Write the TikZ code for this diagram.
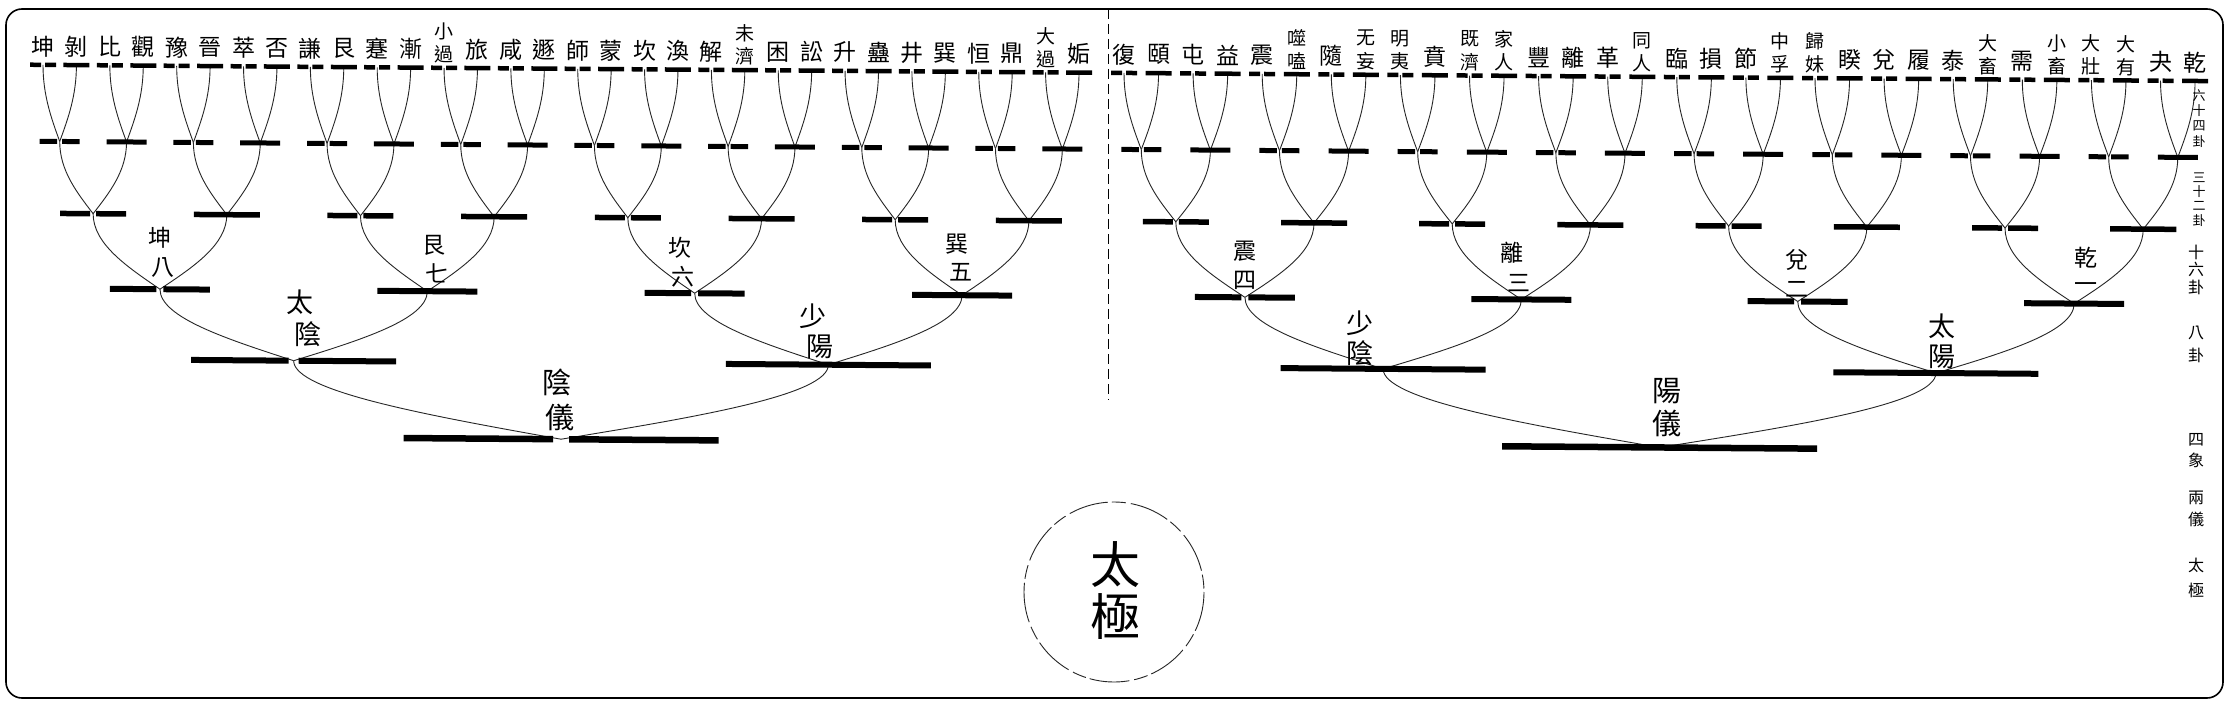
\documentclass[tikz,border=0pt]{standalone}
\usepackage{fontspec}
\newfontfamily\cjk{Noto Sans CJK TC}
\begin{document}
\begin{tikzpicture}[x=1pt,y=-1pt,
  declare function={leafx(\t)=(\t<32)*(43+\t*33.42)+(\t>=32)*(1124+(\t-32)*34.55);},
  barfill/.style={fill=black,draw=none},
  link/.style={line width=0.9pt,draw=black!85},
  nm/.style={font=\cjk\fontsize{23}{23}\selectfont,inner sep=0pt},
  nmtwo/.style={font=\cjk\fontsize{19}{19}\selectfont,inner sep=0pt},
  labeight/.style={font=\cjk\fontsize{23}{23}\selectfont,inner sep=0pt},
  labfour/.style={font=\cjk\fontsize{27}{27}\selectfont,inner sep=0pt},
  labtwo/.style={font=\cjk\fontsize{29}{29}\selectfont,inner sep=0pt},
  side/.style={font=\cjk\fontsize{16}{16}\selectfont,inner sep=0pt},
  sidesmall/.style={font=\cjk\fontsize{13}{13}\selectfont,inner sep=0pt},
  frame/.style={line width=1.6pt,rounded corners=16pt},
]
\useasboundingbox (0,0) rectangle (2233,701);
\fill[white] (0,0) rectangle (2233,701);
\draw[frame] (6,9) rectangle (2223,698);
\draw[line width=1pt,dash pattern=on 10pt off 5pt] (1108,9) coordinate (dtop) -- (1108,400) coordinate (dbot);

\begin{scope}[yslant=-0.0075]
% node points of every level
\foreach \L/\Y in {6/64.5,5/141,4/213,3/288,2/358.5,1/435}{
  \pgfmathtruncatemacro\N{2^\L-1}
  \pgfmathtruncatemacro\nn{2^(6-\L)}
  \foreach \k in {0,...,\N}{
    \pgfmathsetmacro\xc{(leafx(\k*\nn)+leafx(\k*\nn+\nn-1))/2}
    \coordinate (n-\L-\k) at (\xc,\Y);
  }
}
% connecting curves
\foreach \L/\Y/\Yc in {5/141/64.5,4/213/141,3/288/213,2/358.5/288,1/435/358.5}{
  \pgfmathtruncatemacro\N{2^\L-1}
  \pgfmathtruncatemacro\nn{2^(6-\L)}
  \pgfmathtruncatemacro\Lc{\L+1}
  \pgfmathtruncatemacro\nc{\nn/2}
  \foreach \k in {0,...,\N}{
    \pgfmathsetmacro\xc{(leafx(\k*\nn)+leafx(\k*\nn+\nn-1))/2}
    \foreach \j in {0,1}{
      \pgfmathtruncatemacro\cc{2*\k+\j}
      \pgfmathsetmacro\cx{(leafx(\cc*\nc)+leafx(\cc*\nc+\nc-1))/2}
      \pgfmathsetmacro\ddx{0.5*(\cx-\xc)}
      \pgfmathsetmacro\ddy{0.3*(\Yc-\Y)}
      \pgfmathsetmacro\eey{-0.4*(\Yc-\Y)}
      \draw[link] (n-\L-\k) .. controls +(\ddx,\ddy) and +(0,\eey) .. (n-\Lc-\cc);
    }
  }
}
% bars (yin = broken, yang = solid)
\foreach \L/\W/\T/\G in {6/26/4.5/4,5/40/5/5,4/66/5.5/6,3/100/6/7,2/205/6/10,1/315/6.5/16}{
  \pgfmathtruncatemacro\N{2^\L-1}
  \foreach \k in {0,...,\N}{
    \pgfmathtruncatemacro\yin{(mod(\k,2)==0)*(1-(\L==2)*(\k==2))}
    \ifnum\yin=1
      \fill[barfill] ([shift={(-\W/2,-\T/2)}]n-\L-\k) rectangle ([shift={(-\G/2,\T/2)}]n-\L-\k);
      \fill[barfill] ([shift={(\G/2,-\T/2)}]n-\L-\k) rectangle ([shift={(\W/2,\T/2)}]n-\L-\k);
    \else
      \fill[barfill] ([shift={(-\W/2,-\T/2)}]n-\L-\k) rectangle ([shift={(\W/2,\T/2)}]n-\L-\k);
    \fi
  }
}
% hexagram names, one character
\foreach \i/\hx in {0/坤,1/剝,2/比,3/觀,4/豫,5/晉,6/萃,7/否,8/謙,9/艮,10/蹇,11/漸,13/旅,14/咸,15/遯,
  16/師,17/蒙,18/坎,19/渙,20/解,22/困,23/訟,24/升,25/蠱,26/井,27/巽,28/恒,29/鼎,31/姤,
  32/復,33/頤,34/屯,35/益,36/震,38/隨,41/賁,44/豐,45/離,46/革,
  48/臨,49/損,50/節,53/睽,54/兌,55/履,56/泰,58/需,62/夬,63/乾}{
  \pgfmathsetmacro\xx{leafx(\i)}
  \node[nm] (nm-\i) at (\xx,46) {\hx};
}
% hexagram names, two characters stacked
\foreach \i/\ha/\hb in {12/小/過,21/未/濟,30/大/過,37/噬/嗑,39/无/妄,40/明/夷,42/既/濟,43/家/人,
  47/同/人,51/中/孚,52/歸/妹,57/大/畜,59/小/畜,60/大/壯,61/大/有}{
  \pgfmathsetmacro\xx{leafx(\i)}
  \node[nmtwo] (nm-\i-a) at (\xx,28) {\ha};
  \node[nmtwo] (nm-\i-b) at (\xx,51) {\hb};
}
\end{scope}

% eight trigram labels
\foreach \nme/\xa/\ya/\xb/\yb/\ca/\cb in {kun/160/238/163/268/坤/八,gen/434/245/437/273/艮/七,
  kan/680/248/683/277/坎/六,xun/957/244/961/272/巽/五,zhen/1245/251/1245/280/震/四,
  li/1512/253/1519/283/離/三,dui/1797/260/1797/289/兌/二,qian/2086/258/2086/288/乾/一}{
  \node[labeight] (\nme-a) at (\xa,\ya) {\ca};
  \node[labeight] (\nme-b) at (\xb,\yb) {\cb};
}
% four images
\foreach \nme/\xa/\ya/\xb/\yb/\ca/\cb in {taiyin/300/302/308/334/太/陰,shaoyang/813/316/820/347/少/陽,
  shaoyin/1360/323/1360/353/少/陰,taiyang/1942/326/1942/357/太/陽}{
  \node[labfour] (\nme-a) at (\xa,\ya) {\ca};
  \node[labfour] (\nme-b) at (\xb,\yb) {\cb};
}
% two modes
\node[labtwo] (yinyi-a) at (557,382) {陰};
\node[labtwo] (yinyi-b) at (560,417) {儀};
\node[labtwo] (yangyi-a) at (1667,391) {陽};
\node[labtwo] (yangyi-b) at (1667,423) {儀};

% taiji circle
\draw[line width=0.9pt,draw=black!85,dash pattern=on 40pt off 4pt on 14pt off 5pt] (1114,592) circle (90);
\node[font=\cjk\fontsize{50}{50}\selectfont,inner sep=0pt] (taiji-a) at (1115,565) {太};
\node[font=\cjk\fontsize{50}{50}\selectfont,inner sep=0pt] (taiji-b) at (1115,617) {極};

% right column
\foreach \nme/\yy/\ch in {s1/96/六,s2/111/十,s3/126/四,s4/142/卦,
  t1/178/三,t2/192/十,t3/206/二,t4/221/卦}{
  \node[sidesmall] (\nme) at (2199,\yy) {\ch};
}
\foreach \nme/\yy/\ch in {u1/252/十,u2/269/六,u3/287/卦,
  e1/333/八,e2/355/卦,f1/440/四,f2/460/象,g1/498/兩,g2/519/儀,h1/565/太,h2/590/極}{
  \node[side] (\nme) at (2196,\yy) {\ch};
}
\end{tikzpicture}
\end{document}
